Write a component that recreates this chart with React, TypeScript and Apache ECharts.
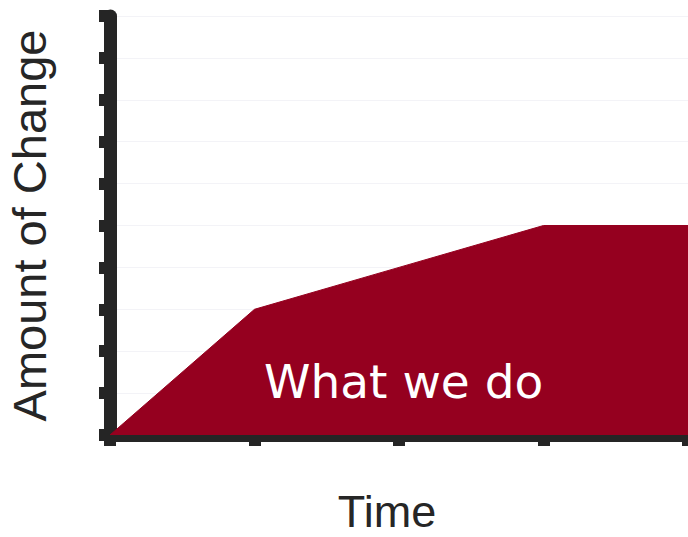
import React, { useEffect, useRef } from "react";
import * as echarts from "echarts";

const categories = ["t0", "t1", "t2", "t3", "t4"];
const changeValues = [0, 3, 4, 5, 5];
const yMin = 0;
const yMax = 10;
const yInterval = 1;
const xAxisName = "Time";
const yAxisName = "Amount of Change";
const areaLabel = "What we do";

export default function App() {
  const ref = useRef<HTMLDivElement>(null);
  useEffect(() => {
    document.body.style.margin = "0";
    if (!ref.current) return;
    const chart = echarts.init(ref.current, undefined, { renderer: "svg" });
    const axisColor = "#252525";
    chart.setOption({
      animation: false,
      backgroundColor: "#ffffff",
      grid: {
        left: 110,
        right: 0,
        top: 16,
        height: 419,
        containLabel: false,
        outerBoundsMode: "none",
      },
      xAxis: {
        type: "category",
        data: categories,
        boundaryGap: false,
        name: xAxisName,
        nameLocation: "middle",
        nameGap: 57,
        nameTextStyle: {
          fontFamily: "Liberation Sans",
          fontSize: 45,
          lineHeight: 38,
          color: "#262626",
          padding: [0, 24, 0, 0],
        },
        axisLine: { show: true, lineStyle: { color: axisColor, width: 13 } },
        axisTick: {
          show: true,
          alignWithLabel: true,
          length: 11,
          lineStyle: { color: axisColor, width: 12 },
        },
        axisLabel: { show: false },
        splitLine: { show: false },
      },
      yAxis: {
        type: "value",
        min: yMin,
        max: yMax,
        interval: yInterval,
        name: yAxisName,
        nameLocation: "middle",
        nameGap: 57,
        nameTextStyle: {
          fontFamily: "Liberation Sans",
          fontSize: 47,
          color: "#262626",
        },
        axisLine: { show: true, lineStyle: { color: axisColor, width: 13 } },
        axisTick: {
          show: true,
          length: 11,
          lineStyle: { color: axisColor, width: 12 },
        },
        axisLabel: { show: false },
        splitLine: { show: true, lineStyle: { color: "#f3f3f7", width: 1 } },
      },
      series: [
        {
          type: "line",
          data: changeValues,
          showSymbol: false,
          symbol: "none",
          lineStyle: { color: "#95001F", width: 1 },
          areaStyle: { color: "#95001F", opacity: 1 },
          z: 1,
        },
      ],
      graphic: [
        {
          type: "text",
          x: 264,
          y: 381,
          z: 100,
          style: {
            text: areaLabel,
            fontFamily: "DejaVu Sans",
            fontSize: 47,
            fill: "#ffffff",
            verticalAlign: "middle",
            align: "left",
          },
        },
      ],
    });
    return () => chart.dispose();
  }, []);
  return (
    <div
      ref={ref}
      style={{ position: "absolute", left: 0, top: 0, width: 688, height: 537 }}
    />
  );
}
